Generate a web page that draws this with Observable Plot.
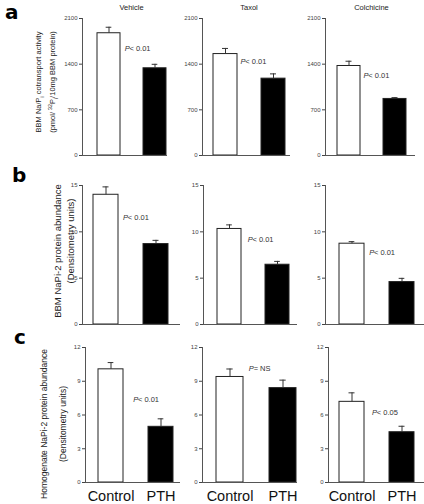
<!DOCTYPE html>
<html><head><meta charset="utf-8">
<script src="https://cdn.jsdelivr.net/npm/d3@7"></script>
<script src="https://cdn.jsdelivr.net/npm/@observablehq/plot@0.6"></script>
<style>
body{margin:0;background:#fff;}
#fig{position:relative;width:424px;height:504px;overflow:hidden;font-family:"Liberation Sans",Arial,sans-serif;color:#222;background:#fff;}
.abs{position:absolute;white-space:nowrap;line-height:1;}
.ctr{transform:translate(-50%,-50%);}
.rot{transform:translate(-50%,-50%) rotate(-90deg);}
.letter{font-family:"DejaVu Sans",sans-serif;font-weight:bold;font-size:20px;color:#000;}
sub,sup{font-size:70%;line-height:0;}
</style></head><body><div id="fig"></div>
<script>
// ---- data ----
const groups = ["Control", "PTH"];
const treatments = ["Vehicle", "Taxol", "Colchicine"];
// row a: BBM Na/Pi cotransport activity (per treatment: [Control, PTH])
const activityMean = [[1874, 1337], [1555, 1178], [1372, 867]];
const activitySE   = [[92, 61], [86, 73], [73, 20]];
// row b: BBM NaPi-2 protein abundance
const bbmMean = [[14.0, 8.68], [10.31, 6.45], [8.72, 4.58]];
const bbmSE   = [[0.85, 0.40], [0.44, 0.36], [0.22, 0.40]];
// row c: homogenate NaPi-2 protein abundance
const homMean = [[10.06, 4.95], [9.38, 8.39], [7.17, 4.47]];
const homSE   = [[0.60, 0.71], [0.71, 0.71], [0.80, 0.53]];
// P annotations
const pText   = [["< 0.01", "< 0.01", "< 0.01"], ["< 0.01", "< 0.01", "< 0.01"], ["< 0.01", "= NS", "< 0.05"]];
const pLabelY = [[1644, 1436, 1226], [11.5, 9.12, 7.8], [7.4, 10.1, 6.2]];
// axes
const yDomains = [[0, 2100], [0, 15], [0, 12]];
const yTicks = [[0, 700, 1400, 2100], [0, 5, 10, 15], [0, 3, 6, 9, 12]];
const panelLetters = ["a", "b", "c"];

const means = [activityMean, bbmMean, homMean];
const ses = [activitySE, bbmSE, homSE];

// ---- layout ----
const rows = [
  {top: 0, height: 160, mt: 18, mb: 5},
  {top: 165, height: 165, mt: 20, mb: 6},
  {top: 335, height: 169, mt: 12, mb: 22}
];
const panels = [
  [{left: 0, width: 167, ml: 82, range: [96, 166], pdx: 4},
   {left: 180, width: 110, ml: 22, range: [33, 105], pdx: 3},
   {left: 300, width: 115, ml: 25, range: [37, 106], pdx: 3}],
  [{left: 0, width: 180, ml: 82, range: [93, 168], pdx: 4.5},
   {left: 180, width: 117, ml: 23, range: [36, 109], pdx: 6},
   {left: 300, width: 124, ml: 25, range: [38, 114], pdx: 4.5}],
  [{left: 0, width: 180, ml: 85, range: [97, 173], pdx: 9.5},
   {left: 180, width: 117, ml: 22, range: [36, 116], pdx: 5.5},
   {left: 300, width: 124, ml: 28, range: [39, 114], pdx: 7.5}]
];
const PI = 0.5;
const fig = document.getElementById("fig");

for (let r = 0; r < 3; r++) {
  for (let c = 0; c < 3; c++) {
    const R = rows[r], L = panels[r][c];
    const data = groups.map((g, i) => ({group: g, mean: means[r][c][i], se: ses[r][c][i]}));
    const ann = [{group: "Control", y: pLabelY[r][c], t: pText[r][c]}];
    const bw = (L.range[1] - L.range[0]) / (2 - PI) * (1 - PI);
    const capInset = Math.max(0, (bw - 6) / 2);
    const marks = [
      Plot.barY(data, {x: "group", y: "mean", fill: "group", stroke: "#222", strokeWidth: 1}),
      Plot.ruleX(data, {x: "group", y1: "mean", y2: d => d.mean + d.se, stroke: "#333", strokeWidth: 1}),
      Plot.tickY(data, {x: "group", y: d => d.mean + d.se, insetLeft: capInset, insetRight: capInset, stroke: "#333", strokeWidth: 1}),
      Plot.axisY(yTicks[r], {tickSize: 3, tickPadding: 2, fontSize: 6, color: "#444", tickFormat: d => String(d), label: null}),
      Plot.frame({anchor: "left", stroke: "#555"}),
      Plot.ruleY([0], {stroke: "#555"}),
      Plot.text(ann, {x: "group", y: "y", text: () => "P", fontStyle: "italic", textAnchor: "start", dx: bw / 2 + L.pdx, fontSize: 7.5, fill: "#333"}),
      Plot.text(ann, {x: "group", y: "y", text: "t", textAnchor: "start", dx: bw / 2 + L.pdx + 4.8, fontSize: 7.5, fill: "#333"})
    ];
    if (r === 2) marks.push(Plot.axisX({tickSize: 0, tickPadding: 8, fontSize: 14.5, color: "#111", label: null}));
    const svg = Plot.plot({
      width: L.width, height: R.height,
      marginTop: R.mt, marginBottom: R.mb, marginLeft: L.ml, marginRight: 0,
      x: {domain: groups, range: L.range, paddingInner: PI, paddingOuter: 0, label: null, ...(r === 2 ? {} : {axis: null})},
      y: {domain: yDomains[r], axis: null, label: null},
      color: {domain: groups, range: ["white", "black"]},
      style: {fontFamily: "Liberation Sans, Arial, sans-serif", background: "transparent", overflow: "visible"},
      marks
    });
    svg.style.position = "absolute";
    svg.style.left = L.left + "px";
    svg.style.top = R.top + "px";
    fig.appendChild(svg);
  }
}

function addDiv(html, cls, x, y, size) {
  const d = document.createElement("div");
  d.className = "abs " + cls;
  d.innerHTML = html;
  d.style.left = x + "px";
  d.style.top = y + "px";
  if (size) d.style.fontSize = size + "px";
  fig.appendChild(d);
  return d;
}
// column titles
const titleX = [131.5, 249, 371.5];
treatments.forEach((t, i) => addDiv(t, "ctr", titleX[i], 8, 7.5).style.color = "#222");
// panel letters
addDiv(panelLetters[0], "letter", 5, 2);
addDiv(panelLetters[1], "letter", 12, 165);
addDiv(panelLetters[2], "letter", 14, 327);
// y-axis titles
addDiv("BBM Na/P<sub>i</sub> cotransport activity", "rot", 38.5, 82, 7.5);
addDiv("(pmol/ <sup>32</sup>P<sub>i</sub>/10mg BBM protein)", "rot", 53, 82, 7.5);
addDiv("BBM NaPi-2 protein abundance", "rot", 58, 251, 9.5);
addDiv("(Densitometry units)", "rot", 71, 241, 9.5);
addDiv("Homogenate NaPi-2 protein abundance", "rot", 44, 424, 8.5);
addDiv("(Densitometry units)", "rot", 63, 424, 8.5);
</script></body></html>
